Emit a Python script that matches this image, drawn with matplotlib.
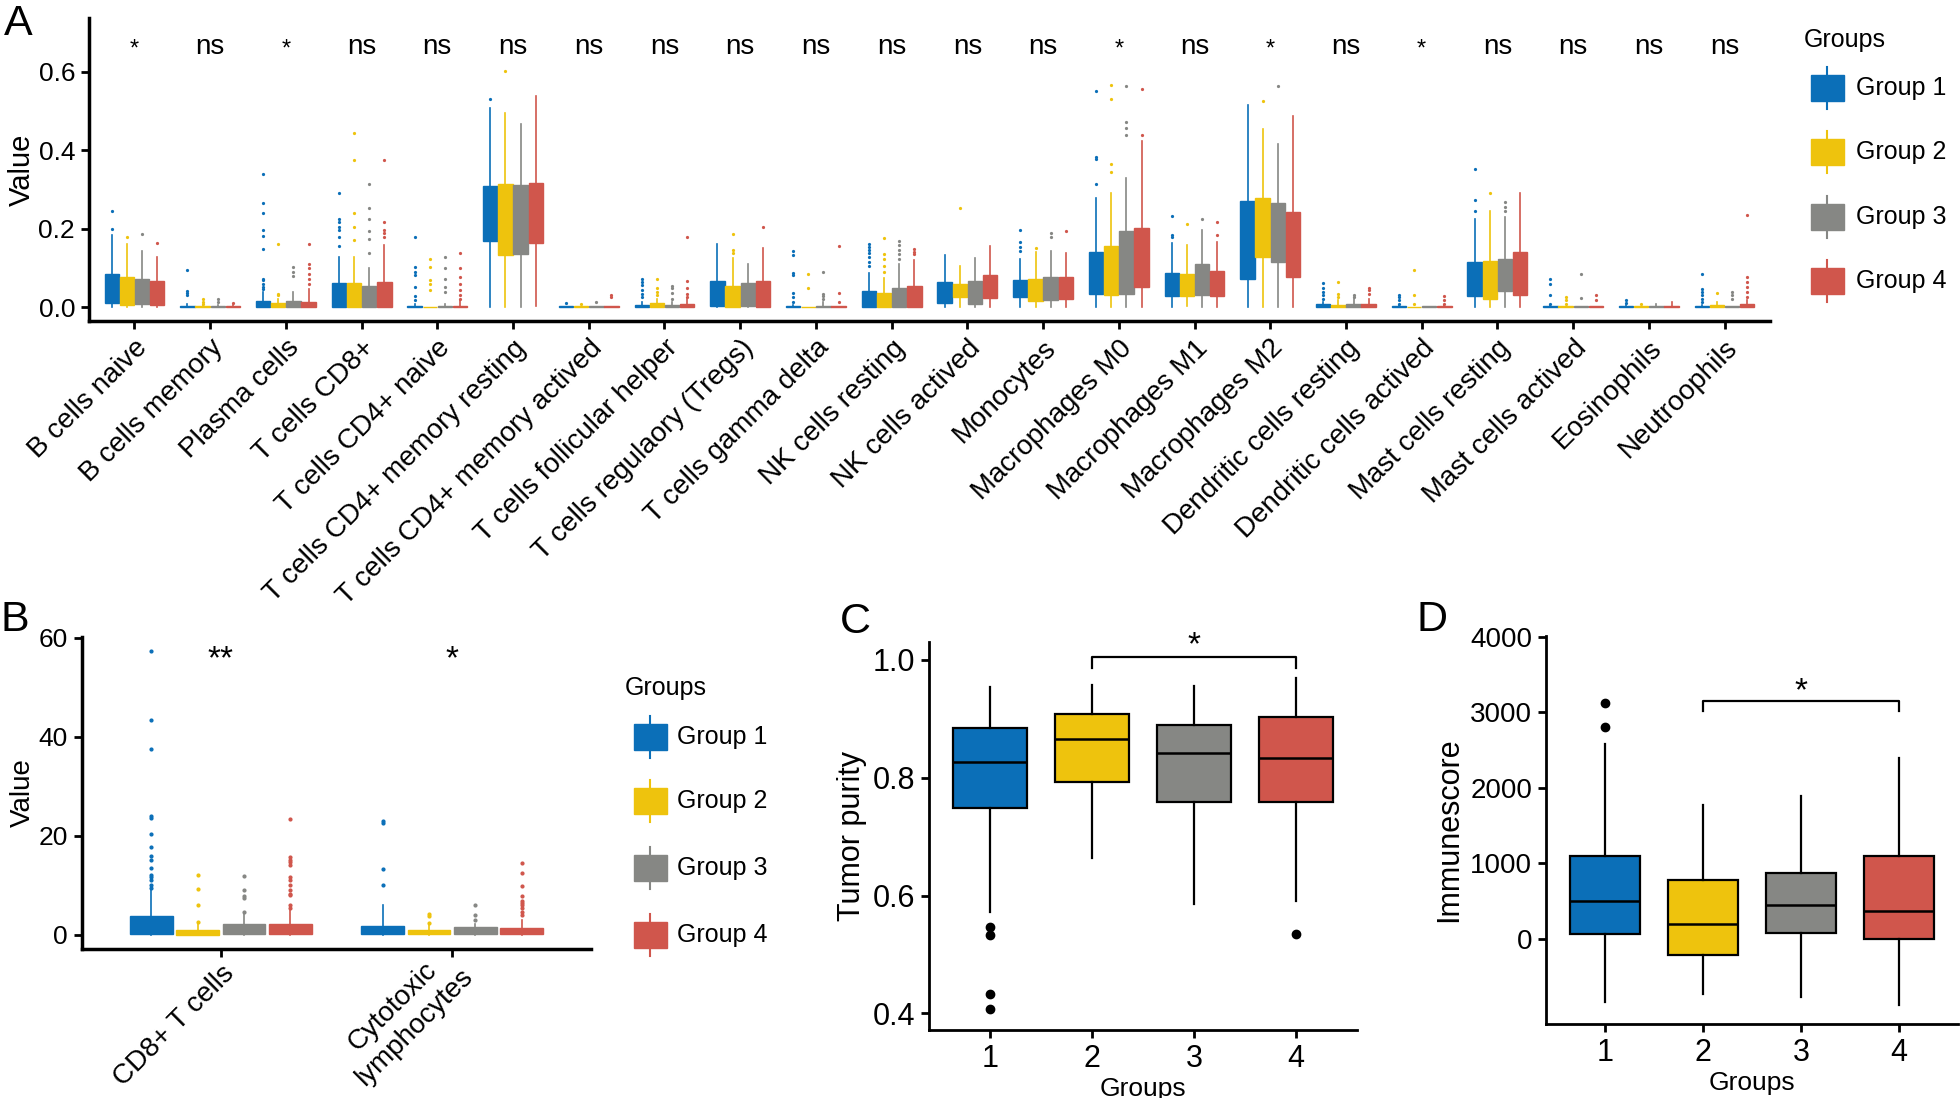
import matplotlib
matplotlib.use('Agg')
import matplotlib.pyplot as plt
from matplotlib.patches import Rectangle
from matplotlib.lines import Line2D
from matplotlib.transforms import ScaledTranslation

plt.rcParams['font.family'] = ['Liberation Sans', 'DejaVu Sans']

W, H = 1960, 1098

groups = ['Group 1', 'Group 2', 'Group 3', 'Group 4']
colors = ['#0b6fb8', '#eec30d', '#868784', '#d0564c']

# ---------------- Panel A data ----------------
cells = ['B cells naive', 'B cells memory', 'Plasma cells', 'T cells CD8+', 'T cells CD4+ naive',
         'T cells CD4+ memory resting', 'T cells CD4+ memory actived', 'T cells follicular helper',
         'T cells regulaory (Tregs)', 'T cells gamma delta', 'NK cells resting', 'NK cells actived',
         'Monocytes', 'Macrophages M0', 'Macrophages M1', 'Macrophages M2', 'Dendritic cells resting',
         'Dendritic cells actived', 'Mast cells resting', 'Mast cells actived', 'Eosinophils', 'Neutroophils']
sig_A = ['*', 'ns', '*', 'ns', 'ns', 'ns', 'ns', 'ns', 'ns', 'ns', 'ns', 'ns', 'ns', '*', 'ns', '*',
         'ns', '*', 'ns', 'ns', 'ns', 'ns']

A_q1 = [[0.012, 0.006, 0.009, 0.007], [0, 0, 0, 0], [0, 0, 0, 0], [0, 0, 0, 0], [0, 0, 0, 0],
        [0.169, 0.132, 0.135, 0.163], [0, 0, 0, 0], [0, 0, 0, 0], [0.003, 0, 0.002, 0], [0, 0, 0, 0],
        [0, 0, 0, 0], [0.010, 0.026, 0.009, 0.024], [0.026, 0.016, 0.018, 0.020], [0.034, 0.032, 0.033, 0.051],
        [0.028, 0.029, 0.032, 0.028], [0.071, 0.127, 0.116, 0.076], [0, 0, 0, 0], [0, 0, 0, 0],
        [0.028, 0.020, 0.041, 0.030], [0, 0, 0, 0], [0, 0, 0, 0], [0, 0, 0, 0]]
A_q3 = [[0.084, 0.076, 0.072, 0.067], [0.003, 0.003, 0.003, 0.003], [0.016, 0.010, 0.017, 0.013],
        [0.063, 0.061, 0.055, 0.065], [0.003, 0.001, 0.003, 0.003], [0.309, 0.314, 0.312, 0.316],
        [0.002, 0.002, 0.002, 0.002], [0.006, 0.010, 0.006, 0.008], [0.066, 0.055, 0.063, 0.066],
        [0.002, 0.001, 0.002, 0.002], [0.042, 0.037, 0.048, 0.054], [0.065, 0.060, 0.067, 0.081],
        [0.069, 0.071, 0.076, 0.076], [0.142, 0.156, 0.195, 0.203], [0.088, 0.084, 0.110, 0.092],
        [0.271, 0.278, 0.265, 0.242], [0.008, 0.006, 0.009, 0.008], [0.002, 0.001, 0.002, 0.002],
        [0.116, 0.119, 0.122, 0.141], [0.002, 0.002, 0.002, 0.002], [0.002, 0.002, 0.002, 0.002],
        [0.002, 0.005, 0.002, 0.009]]
A_lo = [[0, 0, 0, 0]] * 5 + [[0, 0, 0, 0.003]] + [[0, 0, 0, 0]] * 8 + [[0, 0.003, 0, 0]] + [[0, 0, 0, 0]] * 7
A_hi = [[0.185, 0.162, 0.144, 0.127], [0.008, 0.005, 0.005, 0.005], [0.038, 0.022, 0.038, 0.047],
        [0.128, 0.127, 0.100, 0.158], [0.008, 0.001, 0.009, 0.018], [0.508, 0.494, 0.468, 0.539],
        [0.004, 0.004, 0.004, 0.004], [0.014, 0.022, 0.014, 0.022], [0.160, 0.126, 0.111, 0.150],
        [0.005, 0.001, 0.014, 0.004], [0.088, 0.075, 0.109, 0.120], [0.132, 0.106, 0.125, 0.155],
        [0.122, 0.141, 0.143, 0.139], [0.278, 0.292, 0.330, 0.424], [0.163, 0.158, 0.198, 0.167],
        [0.516, 0.454, 0.415, 0.487], [0.014, 0.018, 0.022, 0.022], [0.005, 0.001, 0.002, 0.005],
        [0.224, 0.244, 0.229, 0.290], [0.005, 0.004, 0.004, 0.004], [0.005, 0.004, 0.009, 0.014],
        [0.005, 0.014, 0.004, 0.018]]
A_fliers = [
    [[0.245, 0.200], [0.179], [0.186], [0.163]],
    [[0.094, 0.042, 0.037, 0.031], [0.022, 0.014, 0.008], [0.022, 0.014], [0.011]],
    [[0.339, 0.266, 0.241, 0.196, 0.182, 0.148, 0.073, 0.069, 0.059, 0.052, 0.047], [0.161, 0.035, 0.031],
     [0.103, 0.090, 0.079], [0.162, 0.111, 0.099, 0.084, 0.071, 0.060]],
    [[0.290, 0.226, 0.218, 0.205, 0.196, 0.178, 0.157], [0.445, 0.374, 0.239, 0.204, 0.171],
     [0.315, 0.254, 0.225, 0.195, 0.173, 0.139], [0.375, 0.218, 0.196, 0.188, 0.179]],
    [[0.179, 0.103, 0.090, 0.082, 0.052, 0.028, 0.018], [0.124, 0.103, 0.069, 0.060, 0.043],
     [0.128, 0.099, 0.073, 0.052, 0.038], [0.137, 0.099, 0.077, 0.060, 0.043, 0.031, 0.022]],
    [[0.530], [0.602], [], []],
    [[0.011], [0.008], [0.014], [0.031, 0.026]],
    [[0.073, 0.065, 0.056, 0.043, 0.035, 0.026], [0.073, 0.050, 0.039, 0.031],
     [0.055, 0.048, 0.037, 0.022], [0.179, 0.067, 0.050, 0.035, 0.026]],
    [[], [0.186, 0.147, 0.137], [], [0.205]],
    [[0.144, 0.133, 0.088, 0.082, 0.037, 0.026, 0.014], [0.084, 0.050], [0.090, 0.035, 0.028, 0.020],
     [0.156, 0.037, 0.014]],
    [[0.162, 0.154, 0.145, 0.137, 0.128, 0.116, 0.105], [0.177, 0.135, 0.124, 0.105, 0.090],
     [0.168, 0.158, 0.145, 0.135, 0.124], [0.148, 0.141, 0.135]],
    [[], [0.252], [], []],
    [[0.196, 0.167, 0.154, 0.144], [0.151], [0.190, 0.178], [0.195]],
    [[0.552, 0.383, 0.377, 0.315], [0.566, 0.530, 0.366, 0.345], [0.564, 0.473, 0.458, 0.439], [0.557, 0.439]],
    [[0.232, 0.184, 0.178], [0.211], [0.224], [0.218, 0.184]],
    [[], [0.526], [0.563], []],
    [[0.062, 0.050, 0.039, 0.031, 0.022], [0.065, 0.035, 0.026], [0.031, 0.025], [0.050, 0.043, 0.035]],
    [[0.032, 0.026, 0.018, 0.009], [0.096, 0.031, 0.008], [], [0.028, 0.018, 0.009]],
    [[0.352, 0.273, 0.246], [0.292], [0.269, 0.256, 0.246], []],
    [[0.071, 0.059, 0.031, 0.009], [0.026, 0.018, 0.009], [0.084, 0.024], [0.031, 0.018]],
    [[0.018, 0.011], [0.008], [], []],
    [[0.084, 0.047, 0.039, 0.031, 0.022, 0.014], [0.037], [0.039, 0.031, 0.022],
     [0.236, 0.076, 0.065, 0.052, 0.039, 0.026]],
]

# ---------------- Panel B data ----------------
B_cats = ['CD8+ T cells', 'Cytotoxic\nlymphocytes']
sig_B = ['**', '*']
B_q1 = [[0.2, 0.0, 0.2, 0.1], [0.2, 0.05, 0.2, 0.1]]
B_q3 = [[3.8, 1.0, 2.1, 2.2], [1.8, 1.0, 1.5, 1.4]]
B_lo = [[0, 0, 0, 0], [0, 0, 0, 0]]
B_hi = [[9.0, 2.2, 4.2, 4.9], [6.0, 2.0, 2.2, 2.9]]
B_fliers = [
    [[57.4, 43.4, 37.5, 24.0, 23.6, 20.4, 17.8, 16.0, 15.0, 13.4, 12.0, 11.7, 11.0, 10.0, 9.5],
     [12.1, 9.2, 5.9, 2.6], [11.9, 9.0, 7.9, 7.4, 4.6],
     [23.3, 15.8, 15.2, 14.6, 14.0, 11.7, 11.0, 10.0, 9.0, 8.3, 8.0, 5.9, 5.3]],
    [[22.9, 22.6, 13.3, 10.1], [4.2, 3.8, 2.4], [5.9, 3.9, 3.0],
     [14.4, 12.5, 9.8, 7.9, 6.9, 6.4, 5.9, 5.3, 4.6, 3.9]],
]

# ---------------- Panel C data ----------------
C_groups = ['1', '2', '3', '4']
C_q1 = [0.748, 0.792, 0.758, 0.758]
C_med = [0.826, 0.866, 0.842, 0.834]
C_q3 = [0.884, 0.908, 0.889, 0.903]
C_lo = [0.572, 0.664, 0.586, 0.591]
C_hi = [0.954, 0.957, 0.955, 0.969]
C_fliers = [[0.547, 0.533, 0.433, 0.407], [], [], [0.534]]

# ---------------- Panel D data ----------------
D_q1 = [66, -208, 79, 0]
D_med = [499, 203, 455, 375]
D_q3 = [1104, 786, 874, 1095]
D_lo = [-839, -728, -773, -879]
D_hi = [2587, 1770, 1890, 2389]
D_fliers = [[3126, 2804], [], [], []]

fig = plt.figure(figsize=(W / 100, H / 100), dpi=100)


def axpos(l, t, r, b):
    return [l / W, 1 - b / H, (r - l) / W, (b - t) / H]


def fx(x):
    return x / W


def fy(y):
    return 1 - y / H


def style_axes(ax, lw=2.5):
    for s in ['top', 'right']:
        ax.spines[s].set_visible(False)
    for s in ['left', 'bottom']:
        ax.spines[s].set_linewidth(lw)
    ax.tick_params(length=6, width=2, pad=4)


def grouped_boxes(ax, q1, q3, lo, hi, fliers, width, msize):
    for i in range(len(q1)):
        for g in range(4):
            st = [dict(q1=q1[i][g], med=q3[i][g], q3=q3[i][g], whislo=lo[i][g],
                       whishi=hi[i][g], fliers=fliers[i][g])]
            c = colors[g]
            ax.bxp(st, positions=[i + (g - 1.5) * 0.2], widths=width, patch_artist=True,
                   showcaps=False, manage_ticks=False,
                   boxprops=dict(facecolor=c, edgecolor=c, linewidth=1.0),
                   whiskerprops=dict(color=c, linewidth=1.2),
                   medianprops=dict(linewidth=0),
                   flierprops=dict(marker='o', markersize=msize, markerfacecolor=c,
                                   markeredgecolor=c, linestyle='none'))


def draw_legend(title_xy, key_x, label_x, ys):
    fig.text(fx(title_xy[0]), fy(title_xy[1]), 'Groups', fontsize=18, ha='center', va='center')
    for g, y in enumerate(ys):
        fig.add_artist(Line2D([fx(key_x + 16), fx(key_x + 16)], [fy(y - 21), fy(y + 21)],
                              transform=fig.transFigure, color=colors[g], lw=1.5))
        fig.add_artist(Rectangle((fx(key_x), fy(y + 13)), 33 / W, 26 / H, transform=fig.transFigure,
                                 facecolor=colors[g], edgecolor=colors[g], lw=1))
        fig.text(fx(label_x), fy(y), groups[g], fontsize=18, ha='left', va='center')


# ---------------- Panel A ----------------
axA = fig.add_axes(axpos(89, 18, 1770, 321))
grouped_boxes(axA, A_q1, A_q3, A_lo, A_hi, A_fliers, 0.19, 1.3)
axA.set_xlim(-0.6, len(cells) - 0.4)
axA.set_ylim(-0.035, 0.737)
axA.set_yticks([0.0, 0.2, 0.4, 0.6])
axA.set_yticklabels(['0.0', '0.2', '0.4', '0.6'], fontsize=19)
axA.set_xticks(range(len(cells)))
axA.set_xticklabels(cells, rotation=45, ha='right', va='top', rotation_mode='anchor', fontsize=20)
axA.set_ylabel('Value', fontsize=21, labelpad=2)
style_axes(axA)
for i, s in enumerate(sig_A):
    if s == 'ns':
        axA.text(i, 0.664, s, ha='center', va='center', fontsize=20)
    else:
        axA.text(i, 0.657, s, ha='center', va='center', fontsize=17)
draw_legend((1845, 40), 1811, 1856, [88, 152, 217, 281])
fig.text(fx(4), fy(4), 'A', fontsize=31, ha='left', va='top')

# ---------------- Panel B ----------------
axB = fig.add_axes(axpos(82, 637, 591, 949))
grouped_boxes(axB, B_q1, B_q3, B_lo, B_hi, B_fliers, 0.185, 2.0)
axB.set_xlim(-0.6, 1.6)
axB.set_ylim(-2.9, 60.2)
axB.set_yticks([0, 20, 40, 60])
axB.set_yticklabels(['0', '20', '40', '60'], fontsize=19)
axB.set_xticks(range(len(B_cats)))
axB.set_xticklabels([''] * len(B_cats))
B_label_offsets = [(0.0, -0.116), (-0.14, 0.06)]
for i, lab in enumerate(B_cats):
    dx, dy = B_label_offsets[i]
    axB.text(i, 0, lab, transform=axB.get_xaxis_transform() + ScaledTranslation(dx, dy, fig.dpi_scale_trans),
             rotation=45, ha='right', va='top', rotation_mode='anchor', fontsize=20,
             multialignment='center')
axB.set_ylabel('Value', fontsize=20, labelpad=2)
style_axes(axB)
for i, s in enumerate(sig_B):
    axB.text(i, 55.5, s, ha='center', va='center', fontsize=24)
draw_legend((666, 688), 634, 677, [737, 801, 868, 935])
fig.text(fx(0), fy(600), 'B', fontsize=31, ha='left', va='top')


# ---------------- Panels C & D ----------------
def single_boxes(ax, q1, med, q3, lo, hi, fliers):
    for g in range(4):
        st = [dict(q1=q1[g], med=med[g], q3=q3[g], whislo=lo[g], whishi=hi[g], fliers=fliers[g])]
        ax.bxp(st, positions=[g + 1], widths=0.72, patch_artist=True, showcaps=False,
               manage_ticks=False,
               boxprops=dict(facecolor=colors[g], edgecolor='black', linewidth=1.6),
               whiskerprops=dict(color='black', linewidth=1.6),
               medianprops=dict(color='black', linewidth=1.8),
               flierprops=dict(marker='o', markersize=6, markerfacecolor='black',
                               markeredgecolor='black', linestyle='none'))
    ax.set_xlim(0.4, 4.6)
    ax.set_xticks([1, 2, 3, 4])
    ax.set_xticklabels(C_groups, fontsize=22)
    ax.set_xlabel('Groups', fontsize=19, labelpad=2)
    style_axes(ax, lw=2)


axC = fig.add_axes(axpos(929, 642, 1357, 1030))
single_boxes(axC, C_q1, C_med, C_q3, C_lo, C_hi, C_fliers)
axC.set_ylim(0.372, 1.03)
axC.set_yticks([0.4, 0.6, 0.8, 1.0])
axC.set_yticklabels(['0.4', '0.6', '0.8', '1.0'], fontsize=22)
axC.set_ylabel('Tumor purity', fontsize=22, labelpad=4)
axC.plot([2, 2, 4, 4], [0.986, 1.0045, 1.0045, 0.986], color='black', lw=1.6)
axC.text(3, 0.997, '*', ha='center', va='bottom', fontsize=24)
fig.text(fx(840), fy(602), 'C', fontsize=31, ha='left', va='top')

axD = fig.add_axes(axpos(1546, 636, 1958, 1024))
single_boxes(axD, D_q1, D_med, D_q3, D_lo, D_hi, D_fliers)
axD.set_ylim(-1126, 4010)
axD.set_yticks([0, 1000, 2000, 3000, 4000])
axD.set_yticklabels(['0', '1000', '2000', '3000', '4000'], fontsize=20)
axD.set_ylabel('Immunescore', fontsize=22, labelpad=4)
axD.plot([2, 2, 4, 4], [3011, 3143, 3143, 3011], color='black', lw=1.6)
axD.text(3, 3070, '*', ha='center', va='bottom', fontsize=24)
fig.text(fx(1417), fy(600), 'D', fontsize=31, ha='left', va='top')

fig.savefig('out.png', dpi=100)
